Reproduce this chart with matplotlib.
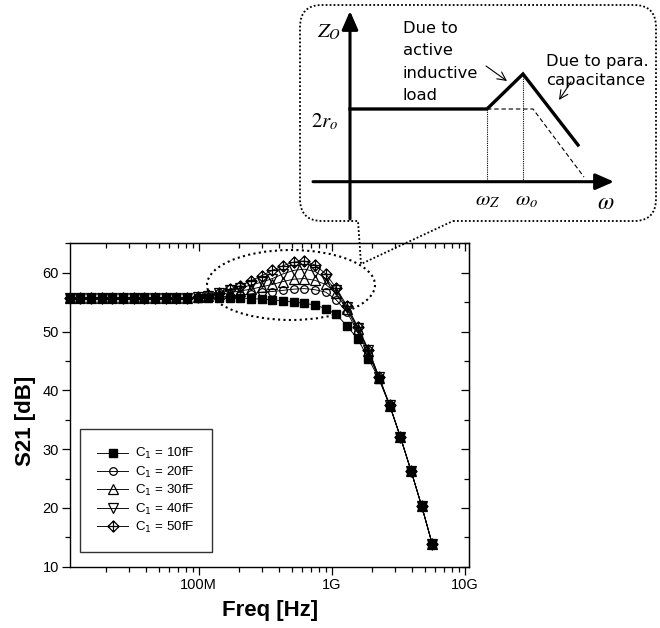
import matplotlib
matplotlib.use("Agg")
import matplotlib.pyplot as plt
from matplotlib.path import Path
from matplotlib.patches import PathPatch, Ellipse
from matplotlib.ticker import FixedLocator, FixedFormatter, LogLocator, MultipleLocator, NullFormatter

# ---------------- data ----------------
freq_hz = [1.07e7, 1.29e7, 1.55e7, 1.87e7, 2.24e7, 2.70e7, 3.24e7, 3.90e7, 4.70e7,
           5.65e7, 6.79e7, 8.17e7, 9.83e7, 1.18e8, 1.42e8, 1.71e8, 2.06e8, 2.47e8,
           2.98e8, 3.58e8, 4.31e8, 5.18e8, 6.23e8, 7.50e8, 9.02e8, 1.08e9, 1.30e9,
           1.57e9, 1.89e9, 2.27e9, 2.73e9, 3.28e9, 3.95e9, 4.75e9, 5.71e9]

s21_10fF = [55.7, 55.7, 55.7, 55.7, 55.7, 55.7, 55.7, 55.7, 55.7, 55.7, 55.7, 55.7,
            55.7, 55.7, 55.7, 55.7, 55.7, 55.6, 55.5, 55.4, 55.2, 55.0, 54.8, 54.5,
            53.9, 52.9, 51.0, 48.7, 45.4, 41.9, 37.4, 32.1, 26.3, 20.3, 13.8]
s21_20fF = [55.7, 55.7, 55.7, 55.7, 55.7, 55.7, 55.7, 55.7, 55.7, 55.7, 55.7, 55.7,
            55.7, 55.8, 55.9, 56.0, 56.2, 56.4, 56.7, 56.8, 57.0, 57.2, 57.3, 57.1,
            56.7, 55.4, 53.3, 50.0, 46.2, 42.0, 37.4, 32.1, 26.3, 20.3, 13.8]
s21_30fF = [55.7, 55.7, 55.7, 55.7, 55.7, 55.7, 55.7, 55.7, 55.7, 55.7, 55.7, 55.7,
            55.8, 56.0, 56.3, 56.6, 56.9, 57.2, 57.6, 58.0, 58.5, 58.9, 59.0, 58.7,
            58.0, 56.5, 53.8, 50.4, 46.6, 42.1, 37.4, 32.1, 26.3, 20.3, 13.8]
s21_40fF = [55.7, 55.7, 55.7, 55.7, 55.7, 55.7, 55.7, 55.7, 55.7, 55.7, 55.7, 55.7,
            55.8, 56.1, 56.5, 57.0, 57.4, 57.9, 58.4, 59.0, 59.8, 60.4, 60.6, 60.2,
            59.0, 57.0, 54.1, 50.6, 46.8, 42.2, 37.5, 32.1, 26.3, 20.3, 13.8]
s21_50fF = [55.7, 55.7, 55.7, 55.7, 55.7, 55.7, 55.7, 55.7, 55.7, 55.7, 55.7, 55.7,
            55.9, 56.2, 56.6, 57.2, 57.8, 58.6, 59.5, 60.4, 61.2, 61.8, 62.0, 61.3,
            59.8, 57.4, 54.4, 50.8, 46.9, 42.3, 37.5, 32.1, 26.3, 20.3, 13.8]

series_labels = [r"C$_1$ = 10fF", r"C$_1$ = 20fF", r"C$_1$ = 30fF",
                 r"C$_1$ = 40fF", r"C$_1$ = 50fF"]

xtick_values = [1e8, 1e9, 1e10]
xtick_labels = ["100M", "1G", "10G"]
ytick_values = [10, 20, 30, 40, 50, 60]

# ---------------- figure ----------------
W, H = 660, 628
fig = plt.figure(figsize=(W / 100, H / 100), dpi=100)
plt.rcParams["font.family"] = ["Liberation Sans", "DejaVu Sans"]

ax = fig.add_axes([70 / W, 1 - 566.7 / H, 399.3 / W, 323.4 / H])
ax.set_xscale("log")
ax.set_xlim(1.077e7, 1.083e10)
ax.set_ylim(10, 65)

# custom diamond-with-cross marker
dverts = [(0, 1), (1, 0), (0, -1), (-1, 0), (0, 1), (0, 1), (0, -1), (-1, 0), (1, 0)]
dcodes = [Path.MOVETO, Path.LINETO, Path.LINETO, Path.LINETO, Path.CLOSEPOLY,
          Path.MOVETO, Path.LINETO, Path.MOVETO, Path.LINETO]
diamond_cross = Path(dverts, dcodes)

all_series = [s21_10fF, s21_20fF, s21_30fF, s21_40fF, s21_50fF]
marker_styles = [
    dict(marker="s", ms=5.5, mfc="black", mec="black"),
    dict(marker="o", ms=5.5, mfc="none", mec="black", mew=0.9),
    dict(marker="^", ms=7.5, mfc="none", mec="black", mew=0.9),
    dict(marker="v", ms=7.5, mfc="none", mec="black", mew=0.9),
    dict(marker=diamond_cross, ms=8, mfc="none", mec="black", mew=0.9),
]
for vals, lab, st in zip(all_series, series_labels, marker_styles):
    ax.plot(freq_hz, vals, color="black", lw=0.65, label=lab, clip_on=False, **st)

# ticks
ax.xaxis.set_major_locator(FixedLocator(xtick_values))
ax.xaxis.set_major_formatter(FixedFormatter(xtick_labels))
ax.xaxis.set_minor_locator(LogLocator(base=10, subs=[2, 3, 4, 5, 6, 7, 8, 9]))
ax.xaxis.set_minor_formatter(NullFormatter())
ax.yaxis.set_major_locator(FixedLocator(ytick_values))
ax.yaxis.set_minor_locator(MultipleLocator(5))
ax.tick_params(which="major", direction="out", length=6, width=0.9, labelsize=10.5, pad=2)
ax.tick_params(which="minor", direction="out", length=3.5, width=0.9)
for sp in ax.spines.values():
    sp.set_linewidth(1.0)

top = ax.secondary_xaxis("top")
top.xaxis.set_major_locator(FixedLocator(xtick_values))
top.xaxis.set_minor_locator(LogLocator(base=10, subs=[2, 3, 4, 5, 6, 7, 8, 9]))
top.xaxis.set_major_formatter(NullFormatter())
top.xaxis.set_minor_formatter(NullFormatter())
top.tick_params(which="major", direction="in", length=6, width=0.9)
top.tick_params(which="minor", direction="in", length=3.5, width=0.9)
right = ax.secondary_yaxis("right")
right.yaxis.set_major_locator(FixedLocator(ytick_values))
right.yaxis.set_minor_locator(MultipleLocator(5))
right.yaxis.set_major_formatter(NullFormatter())
right.tick_params(which="major", direction="in", length=6, width=0.9)
right.tick_params(which="minor", direction="in", length=3.5, width=0.9)

ax.set_xlabel("Freq [Hz]", fontsize=16, fontweight="bold", labelpad=6)
ax.set_ylabel("S21 [dB]", fontsize=16, fontweight="bold")
ax.yaxis.set_label_coords(-0.085, 0.45)

leg = ax.legend(loc="upper left", bbox_to_anchor=(0.025, 0.426), borderaxespad=0,
                fontsize=9.6, frameon=True, fancybox=False, edgecolor="black",
                borderpad=1.3, labelspacing=0.25, handlelength=2.3, handletextpad=0.5)
leg.get_frame().set_linewidth(1.0)

# ---------------- overlay (callout schematic) ----------------
ov = fig.add_axes([0, 0, 1, 1], zorder=10)
ov.set_xlim(0, W)
ov.set_ylim(H, 0)
ov.axis("off")

# dotted ellipse around the peak
ov.add_patch(Ellipse((291, 285), 168, 70, fill=False, ec="black", lw=1.5,
                     ls=(0, (1, 1.6))))

# speech bubble
L, R, T, B, r = 300, 656, 5, 221, 22
bverts = [(453, B), (R - r, B), (R, B), (R, B - r), (R, T + r), (R, T), (R - r, T),
          (L + r, T), (L, T), (L, T + r), (L, B - r), (L, B), (L + r, B), (358, B),
          (361, 264), (453, B)]
bcodes = [Path.MOVETO, Path.LINETO, Path.CURVE3, Path.CURVE3, Path.LINETO, Path.CURVE3,
          Path.CURVE3, Path.LINETO, Path.CURVE3, Path.CURVE3, Path.LINETO, Path.CURVE3,
          Path.CURVE3, Path.LINETO, Path.LINETO, Path.LINETO]
ov.add_patch(PathPatch(Path(bverts, bcodes), fill=False, ec="black", lw=1.3,
                       ls=(0, (1, 1.2))))

# schematic axes
arrow_kw = dict(arrowstyle="-|>,head_length=0.8,head_width=0.35", lw=2.2, color="black",
                shrinkA=0, shrinkB=0, mutation_scale=14)
ov.annotate("", xy=(350, 11), xytext=(350, 219), arrowprops=arrow_kw)
ov.annotate("", xy=(614, 181.7), xytext=(313, 181.7), arrowprops=arrow_kw)

zo_x = [350, 487, 523, 578]
zo_y = [109, 109, 74, 145]
ov.plot(zo_x, zo_y, color="black", lw=2.4, solid_joinstyle="miter")
ov.plot([487, 533, 584], [109, 109, 177], color="black", lw=0.8, ls=(0, (4, 2.5)))
ov.plot([487, 487], [109, 181], color="black", lw=0.8, ls=(0, (1, 1)))
ov.plot([523, 523], [76, 181], color="black", lw=0.8, ls=(0, (1, 1)))

# thin pointer arrows
thin_kw = dict(arrowstyle="->,head_length=0.5,head_width=0.25", lw=0.8, color="black",
               shrinkA=0, shrinkB=0, mutation_scale=12)
ov.annotate("", xy=(507, 81), xytext=(486, 66), arrowprops=thin_kw)
ov.annotate("", xy=(559, 100), xytext=(571, 82), arrowprops=thin_kw)

txt_kw = dict(family="DejaVu Sans", fontsize=11.8, color="black")
ov.text(403, 21, "Due to\nactive\ninductive\nload", ha="left", va="top",
        linespacing=1.62, **txt_kw)
ov.text(546, 54, "Due to para.\ncapacitance", ha="left", va="top",
        linespacing=1.3, **txt_kw)

math_kw = dict(math_fontfamily="stix", color="black")
ov.text(329, 32, r"$Z_O$", ha="center", va="center", fontsize=15, **math_kw)
ov.text(325, 122, r"$2r_o$", ha="center", va="center", fontsize=15, **math_kw)
ov.text(488, 201, r"$\omega_Z$", ha="center", va="center", fontsize=15, **math_kw)
ov.text(527, 201, r"$\omega_o$", ha="center", va="center", fontsize=15, **math_kw)
ov.text(606, 203, r"$\omega$", ha="center", va="center", fontsize=17, **math_kw)

fig.savefig("out.png", dpi=100)
